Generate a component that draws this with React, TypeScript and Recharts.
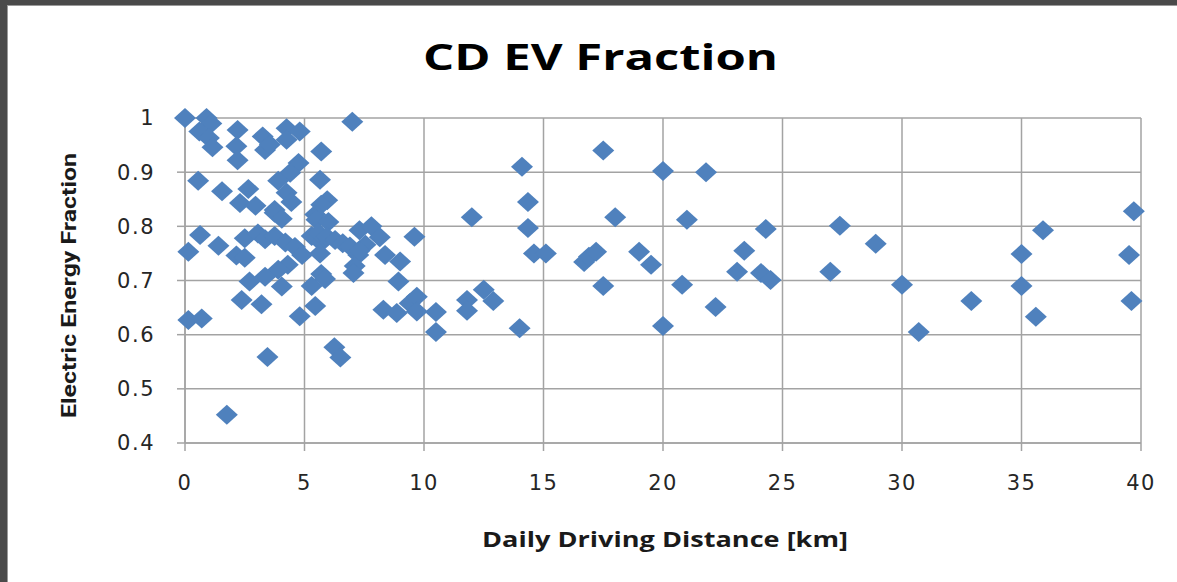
import React from "react";
import { ScatterChart, Scatter, XAxis, YAxis, CartesianGrid } from "recharts";

const W = 1177;
const H = 582;

const chartTitle = "CD EV Fraction";
const xTitle = "Daily Driving Distance [km]";
const yTitle = "Electric Energy Fraction";

const xTicks = [0, 5, 10, 15, 20, 25, 30, 35, 40];
const yTicks = [0.4, 0.5, 0.6, 0.7, 0.8, 0.9, 1];

// Daily driving distance [km]
const distance = [
  0.0, 0.9, 1.1, 0.6, 1.0, 1.15, 2.2, 2.15, 2.2, 3.25, 3.35, 3.55, 4.25, 4.8, 4.25, 5.7,
  4.75, 4.4, 3.9, 0.55, 1.55, 2.65, 2.3, 2.95, 3.75, 4.25, 4.45, 5.65, 5.95, 5.7, 7.0,
  0.63, 0.14, 1.4, 2.15, 2.5, 2.5, 3.05, 3.35, 3.75, 4.2, 4.6, 4.3, 3.9, 3.35, 2.7, 4.05,
  2.37, 3.2, 0.14, 0.7, 4.8, 5.45, 5.3, 5.7, 5.86, 5.3, 5.7, 5.65, 4.9, 3.75, 4.05, 5.45,
  5.5, 6.0, 5.58, 5.93, 6.28, 6.6, 6.9, 7.3, 7.8, 8.15, 7.25, 7.1, 7.05, 8.37, 9.0, 9.6,
  8.93, 8.3, 8.86, 9.4, 9.7, 9.7, 10.5, 10.5, 1.75, 3.45, 6.25, 6.5, 7.55, 7.3,
  12.0, 11.8, 11.8, 12.5, 12.9, 14.1, 14.35, 14.35, 14.6, 15.1, 14.0, 16.7, 16.9, 17.2,
  17.5, 17.5, 18.0, 19.0, 19.5, 20.0, 20.0, 21.0, 20.8, 21.8, 22.2, 23.1, 23.4, 24.3,
  24.1, 24.5, 27.0, 27.4, 28.9, 30.0, 30.7, 32.9, 35.0, 35.0, 35.6, 35.9, 39.5, 39.7, 39.6,
];

// Electric energy fraction
const fraction = [
  1.0, 1.0, 0.99, 0.975, 0.963, 0.946, 0.978, 0.948, 0.922, 0.966, 0.941, 0.951, 0.981, 0.975, 0.96, 0.938,
  0.917, 0.899, 0.884, 0.884, 0.865, 0.869, 0.843, 0.838, 0.83, 0.862, 0.845, 0.886, 0.848, 0.84, 0.993,
  0.784, 0.753, 0.764, 0.746, 0.742, 0.778, 0.787, 0.776, 0.782, 0.77, 0.762, 0.729, 0.72, 0.707, 0.698, 0.689,
  0.664, 0.656, 0.627, 0.63, 0.634, 0.653, 0.69, 0.712, 0.703, 0.782, 0.77, 0.75, 0.747, 0.825, 0.814, 0.822,
  0.812, 0.808, 0.788, 0.781, 0.775, 0.769, 0.763, 0.793, 0.8, 0.78, 0.747, 0.727, 0.714, 0.747, 0.735, 0.781,
  0.698, 0.646, 0.64, 0.658, 0.67, 0.643, 0.642, 0.605, 0.452, 0.559, 0.577, 0.558, 0.766, 0.755,
  0.817, 0.664, 0.644, 0.683, 0.662, 0.91, 0.845, 0.797, 0.75, 0.75, 0.612, 0.734, 0.744, 0.753,
  0.94, 0.69, 0.817, 0.753, 0.729, 0.902, 0.616, 0.812, 0.692, 0.9, 0.651, 0.716, 0.755, 0.795,
  0.714, 0.701, 0.716, 0.801, 0.768, 0.692, 0.605, 0.662, 0.749, 0.69, 0.633, 0.793, 0.747, 0.828, 0.662,
];

const data = distance.map((x, i) => ({ x, y: fraction[i] }));

const BLUE = "#4f81bd";
const GRID = "#a3a3a3";

const Diamond = (props: any) => {
  const { cx, cy } = props;
  if (cx == null || cy == null) return null;
  const hw = 11;
  const hh = 10;
  return (
    <polygon
      points={`${cx - hw},${cy} ${cx},${cy - hh} ${cx + hw},${cy} ${cx},${cy + hh}`}
      fill={BLUE}
    />
  );
};

const XTitle = () => (
  <text
    x={482}
    y={547}
    textLength={366}
    lengthAdjust="spacingAndGlyphs"
    fontFamily="'Open Sans', 'DejaVu Sans', sans-serif"
    fontWeight={700}
    fontSize={21}
    fill="#1a1a1a"
  >
    {xTitle}
  </text>
);

const YTitle = () => (
  <text
    x={0}
    y={0}
    transform="translate(76,285.5) rotate(-90)"
    textAnchor="middle"
    textLength={265}
    lengthAdjust="spacingAndGlyphs"
    fontFamily="'Liberation Sans Narrow', 'Roboto', sans-serif"
    fontWeight={700}
    fontSize={21}
    fill="#1a1a1a"
  >
    {yTitle}
  </text>
);

const tickStyle = {
  fontFamily: "'DejaVu Sans', Verdana, sans-serif",
  fontSize: 21,
  fill: "#262626",
  letterSpacing: 1.5,
};

export default function App() {
  return (
    <div
      style={{
        position: "absolute",
        left: 0,
        top: 0,
        width: W,
        height: H,
        background: "#4a4a4a",
        overflow: "hidden",
      }}
    >
      <div
        style={{
          position: "absolute",
          left: 7,
          top: 5,
          width: W - 7,
          height: H - 5,
          background: "#ffffff",
          borderLeft: "1px solid #9a9a9a",
          borderTop: "1px solid #9a9a9a",
          boxSizing: "border-box",
        }}
      />
      <div style={{ position: "absolute", left: 0, top: 0 }}>
        <ScatterChart
          width={W}
          height={H}
          margin={{ top: 118, right: 36, bottom: 79, left: 85 }}
        >
          <CartesianGrid stroke={GRID} strokeWidth={1.5} />
          <XAxis
            type="number"
            dataKey="x"
            domain={[0, 40]}
            ticks={xTicks}
            interval={0}
            height={60}
            stroke={GRID}
            strokeWidth={1.5}
            tickSize={8}
            tickMargin={24}
            tick={tickStyle}
            tickLine={{ stroke: GRID, strokeWidth: 1.5 }}
            label={<XTitle />}
          />
          <YAxis
            type="number"
            dataKey="y"
            domain={[0.4, 1]}
            ticks={yTicks}
            interval={0}
            width={100}
            stroke={GRID}
            strokeWidth={1.5}
            tickSize={8}
            tickMargin={22}
            tick={tickStyle}
            tickLine={{ stroke: GRID, strokeWidth: 1.5 }}
            tickFormatter={(v: number) => String(v)}
            label={<YTitle />}
          />
          <Scatter data={data} shape={<Diamond />} isAnimationActive={false} />
        </ScatterChart>
      </div>
      <svg
        width={W}
        height={100}
        style={{ position: "absolute", left: 0, top: 0, pointerEvents: "none" }}
      >
        <text
          x={423}
          y={70}
          textLength={355}
          lengthAdjust="spacingAndGlyphs"
          fontFamily="'Open Sans', 'DejaVu Sans', sans-serif"
          fontWeight={700}
          fontSize={36}
          fill="#000"
        >
          {chartTitle}
        </text>
      </svg>
    </div>
  );
}
